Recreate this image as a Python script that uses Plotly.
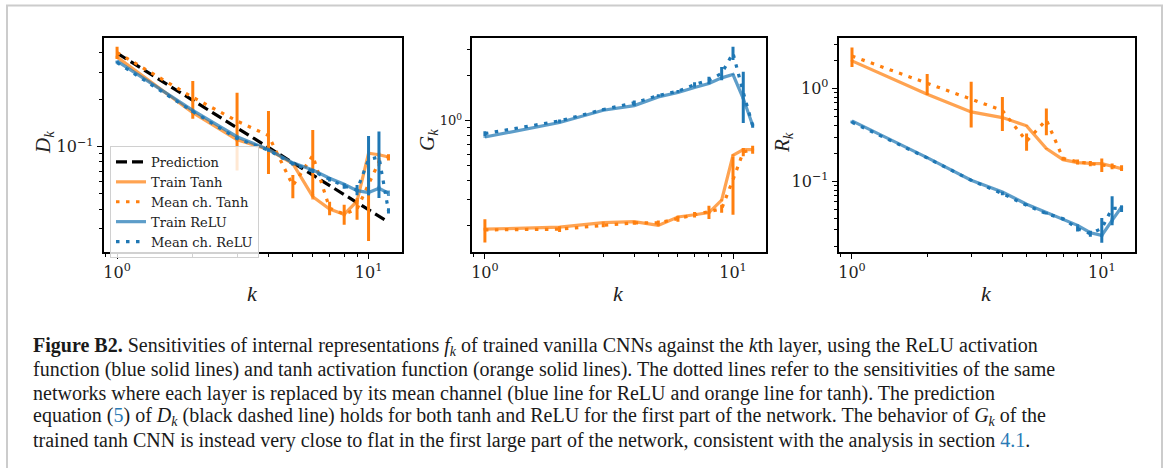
import plotly.graph_objects as go

# ---------------- data ----------------
k = [1, 2, 3, 4, 5, 6, 7, 8, 9, 10, 11, 12]

# Panel 1: D_k
pred_D = [0.396, 0.198, 0.132, 0.099, 0.0792, 0.066, 0.0566, 0.0495, 0.044, 0.0396, 0.036, 0.033]
train_tanh_D = [0.374, 0.165, 0.111, 0.096, 0.078, 0.048, 0.040, 0.037, 0.045, 0.091, 0.089, 0.086]
train_tanh_D_err = [0.008, 0.004, 0.003, 0.003, 0.002, 0.002, 0.001, 0.001, 0.002, 0.003, 0.003, 0.003]
mean_tanh_D = [0.400, 0.207, 0.146, 0.118, 0.0565, 0.088, 0.0405, 0.0372, 0.040, 0.058, 0.080, 0.0856]
mean_tanh_D_err = [0.036, 0.056, 0.0755, 0.051, 0.0096, 0.040, 0.004, 0.0054, 0.0058, 0.033, 0.005, 0.004]
train_relu_D = [0.352, 0.171, 0.116, 0.096, 0.079, 0.071, 0.063, 0.0576, 0.0525, 0.051, 0.0543, 0.0505]
train_relu_D_err = [0.004, 0.002, 0.002, 0.001, 0.001, 0.001, 0.001, 0.001, 0.001, 0.002, 0.002, 0.002]
mean_relu_D = [0.345, 0.168, 0.113, 0.095, 0.078, 0.070, 0.062, 0.056, 0.053, 0.083, 0.086, 0.039]
mean_relu_D_err = [0.005, 0.003, 0.002, 0.002, 0.002, 0.002, 0.002, 0.002, 0.004, 0.034, 0.039, 0.0015]

# Panel 2: G_k
train_tanh_G = [0.189, 0.195, 0.209, 0.212, 0.2005, 0.228, 0.236, 0.244, 0.295, 0.589, 0.643, 0.643]
train_tanh_G_err = [0.004, 0.003, 0.003, 0.003, 0.003, 0.003, 0.003, 0.004, 0.005, 0.01, 0.01, 0.01]
mean_tanh_G = [0.187, 0.189, 0.2005, 0.208, 0.208, 0.222, 0.236, 0.246, 0.259, 0.405, 0.620, 0.643]
mean_tanh_G_err = [0.033, 0.008, 0.006, 0.006, 0.008, 0.010, 0.010, 0.025, 0.016, 0.169, 0.040, 0.040]
train_relu_G = [0.781, 0.975, 1.178, 1.266, 1.447, 1.547, 1.671, 1.777, 1.94, 2.042, 1.41, 0.936]
train_relu_G_err = [0.01, 0.01, 0.01, 0.01, 0.01, 0.01, 0.01, 0.02, 0.02, 0.02, 0.02, 0.01]
mean_relu_G = [0.823, 1.0, 1.191, 1.32, 1.477, 1.579, 1.75, 1.871, 2.08, 2.84, 1.55, 0.93]
mean_relu_G_err = [0.03, 0.02, 0.02, 0.05, 0.03, 0.03, 0.06, 0.10, 0.21, 0.29, 0.58, 0.03]

# Panel 3: R_k
train_tanh_R = [1.988, 0.869, 0.56, 0.486, 0.396, 0.225, 0.171, 0.159, 0.156, 0.155, 0.145, 0.137]
train_tanh_R_err = [0.03, 0.01, 0.01, 0.01, 0.005, 0.004, 0.003, 0.003, 0.003, 0.003, 0.003, 0.003]
mean_tanh_R = [2.24, 1.14, 0.78, 0.58, 0.27, 0.46, 0.176, 0.162, 0.155, 0.151, 0.145, 0.139]
mean_tanh_R_err = [0.53, 0.29, 0.40, 0.232, 0.057, 0.147, 0.008, 0.010, 0.010, 0.025, 0.010, 0.010]
train_relu_R = [0.448, 0.18, 0.1025, 0.0767, 0.0565, 0.0459, 0.0386, 0.0335, 0.0279, 0.0261, 0.0379, 0.0528]
train_relu_R_err = [0.005, 0.002, 0.001, 0.001, 0.001, 0.001, 0.001, 0.001, 0.001, 0.001, 0.002, 0.002]
mean_relu_R = [0.433, 0.1786, 0.1025, 0.0736, 0.0551, 0.0448, 0.0395, 0.0308, 0.0272, 0.031, 0.0512, 0.0507]
mean_relu_R_err = [0.010, 0.003, 0.002, 0.003, 0.001, 0.001, 0.001, 0.002, 0.002, 0.0092, 0.0177, 0.004]

series_names = ["Prediction", "Train Tanh", "Mean ch. Tanh", "Train ReLU", "Mean ch. ReLU"]
x_ticklabels = ["10<sup>0</sup>", "10<sup>1</sup>"]
y_labels = ["D", "G", "R"]

caption_lines = [
    "<b>Figure B2.</b> Sensitivities of internal representations <i>f<sub>k</sub></i> of trained vanilla CNNs against the <i>k</i>th layer, using the ReLU activation",
    "function (blue solid lines) and tanh activation function (orange solid lines). The dotted lines refer to the sensitivities of the same",
    "networks where each layer is replaced by its mean channel (blue line for ReLU and orange line for tanh). The prediction",
    "equation (<span style='color:#2a7ab5'>5</span>) of <i>D<sub>k</sub></i> (black dashed line) holds for both tanh and ReLU for the first part of the network. The behavior of <i>G<sub>k</sub></i> of the",
    "trained tanh CNN is instead very close to flat in the first large part of the network, consistent with the analysis in section <span style='color:#2a7ab5'>4.1</span>.",
]

# ---------------- style ----------------
W, H = 1167, 468
BLUE = "#1f77b4"
ORANGE = "#ff7f0e"
BLUE_A = "rgba(31,119,180,0.72)"
ORANGE_A = "rgba(255,127,14,0.72)"
DOT = "3.5px,6.5px"
DASH = "11px,5px"
LW = 3.2
SERIF = "DejaVu Serif"
CAP_FONT = "Liberation Serif"

fig = go.Figure()

panels = [
    dict(x0=103.5, x1=402, pred=pred_D,
         tt=(train_tanh_D, train_tanh_D_err), mt=(mean_tanh_D, mean_tanh_D_err),
         tr=(train_relu_D, train_relu_D_err), mr=(mean_relu_D, mean_relu_D_err),
         yr=[-1.672, -0.302], ymaj=[0.1], ymajt=["10<sup>\u22121</sup>"],
         ymin=[0.03, 0.04, 0.05, 0.06, 0.07, 0.08, 0.09, 0.2, 0.3, 0.4], ytfs=16,
         ylab_x=44, ylab_y=143),
    dict(x0=471.5, x1=766, pred=None,
         tt=(train_tanh_G, train_tanh_G_err), mt=(mean_tanh_G, mean_tanh_G_err),
         tr=(train_relu_G, train_relu_G_err), mr=(mean_relu_G, mean_relu_G_err),
         yr=[-0.876, 0.5574], ymaj=[1], ymajt=["10<sup>0</sup>"],
         ymin=[0.2, 0.3, 0.4, 0.5, 0.6, 0.7, 0.8, 0.9, 2, 3], ytfs=13,
         ylab_x=428, ylab_y=140),
    dict(x0=838.5, x1=1135, pred=None,
         tt=(train_tanh_R, train_tanh_R_err), mt=(mean_tanh_R, mean_tanh_R_err),
         tr=(train_relu_R, train_relu_R_err), mr=(mean_relu_R, mean_relu_R_err),
         yr=[-1.7626, 0.550], ymaj=[0.1, 1], ymajt=["10<sup>\u22121</sup>", "10<sup>0</sup>"],
         ymin=[0.02, 0.03, 0.04, 0.05, 0.06, 0.07, 0.08, 0.09, 0.2, 0.3, 0.4, 0.5, 0.6, 0.7, 0.8, 0.9, 2, 3],
         ytfs=16, ylab_x=783, ylab_y=143),
]

y_top, y_bot = 37.5, 252

annotations = []
layout_axes = {}
for i, p in enumerate(panels):
    n = "" if i == 0 else str(i + 1)
    xa, ya = "x" + n, "y" + n
    first = i == 0

    def add(y, err, name, color, dash, errcolor):
        fig.add_trace(go.Scatter(
            x=k, y=y, mode="lines", name=name, xaxis=xa, yaxis=ya,
            line=dict(color=color, width=LW, dash=dash),
            error_y=dict(type="data", array=err, symmetric=True, thickness=3, width=0, color=errcolor),
            showlegend=first, legendgroup=name))

    if p["pred"] is not None:
        fig.add_trace(go.Scatter(x=k, y=p["pred"], mode="lines", name=series_names[0],
                                 xaxis=xa, yaxis=ya, line=dict(color="black", width=LW, dash=DASH),
                                 showlegend=True, legendgroup=series_names[0]))
    add(p["tt"][0], p["tt"][1], series_names[1], ORANGE_A, "solid", ORANGE_A)
    add(p["mt"][0], p["mt"][1], series_names[2], ORANGE, DOT, ORANGE)
    add(p["tr"][0], p["tr"][1], series_names[3], BLUE_A, "solid", BLUE_A)
    add(p["mr"][0], p["mr"][1], series_names[4], BLUE, DOT, BLUE)

    axcommon = dict(showline=True, linecolor="black", linewidth=1.7, mirror=True,
                    ticks="outside", ticklen=5, tickwidth=1.2, tickcolor="black",
                    showgrid=False, zeroline=False)
    layout_axes["xaxis" + n] = dict(
        type="log", range=[-0.054, 1.133], domain=[p["x0"] / W, p["x1"] / W],
        anchor=ya, tickmode="array", tickvals=[1, 10], ticktext=x_ticklabels,
        tickfont=dict(family=SERIF, size=16, color="#222"),
        minor=dict(tickmode="array", tickvals=[0.9, 2, 3, 4, 5, 6, 7, 8, 9],
                   ticks="outside", ticklen=3, tickwidth=1, tickcolor="black"),
        **axcommon)
    layout_axes["yaxis" + n] = dict(
        type="log", range=p["yr"], domain=[1 - y_bot / H, 1 - y_top / H],
        anchor=xa, tickmode="array", tickvals=p["ymaj"], ticktext=p["ymajt"],
        tickfont=dict(family=SERIF, size=p["ytfs"], color="#222"),
        minor=dict(tickmode="array", tickvals=p["ymin"],
                   ticks="outside", ticklen=3, tickwidth=1, tickcolor="black"),
        **axcommon)

    annotations.append(dict(
        text="<i>k</i>", x=(p["x0"] + p["x1"]) / 2 / W, y=1 - 293 / H, xref="paper", yref="paper",
        showarrow=False, xanchor="center", yanchor="middle",
        font=dict(family="Liberation Serif", size=22, color="#222")))
    annotations.append(dict(
        text="<i>%s<sub>k</sub></i>" % y_labels[i], x=p["ylab_x"] / W, y=1 - p["ylab_y"] / H,
        xref="paper", yref="paper", showarrow=False, textangle=-90,
        xanchor="center", yanchor="middle",
        font=dict(family="Liberation Serif", size=21, color="#222")))

caption_y = [346, 369.5, 393, 416.5, 440]
for line, yy in zip(caption_lines, caption_y):
    annotations.append(dict(
        text=line, x=31 / W, y=1 - yy / H, xref="paper", yref="paper",
        showarrow=False, xanchor="left", yanchor="middle", align="left",
        font=dict(family=CAP_FONT, size=20, color="#1a1a1a")))

fig.update_layout(
    width=W, height=H, margin=dict(l=0, r=0, t=0, b=0),
    paper_bgcolor="white", plot_bgcolor="white",
    annotations=annotations,
    shapes=[dict(type="rect", xref="paper", yref="paper",
                 x0=7 / W, x1=1162 / W, y0=-0.05, y1=1 - 5.5 / H,
                 line=dict(color="#cccccc", width=2), layer="below")],
    legend=dict(x=110 / W, y=1 - 146 / H, xanchor="left", yanchor="top",
                bgcolor="rgba(255,255,255,0.82)", bordercolor="#d0d0d0", borderwidth=1,
                font=dict(family=SERIF, size=13, color="#222"), tracegroupgap=0,
                itemwidth=30),
    **layout_axes,
)

fig.write_html("out.html")
